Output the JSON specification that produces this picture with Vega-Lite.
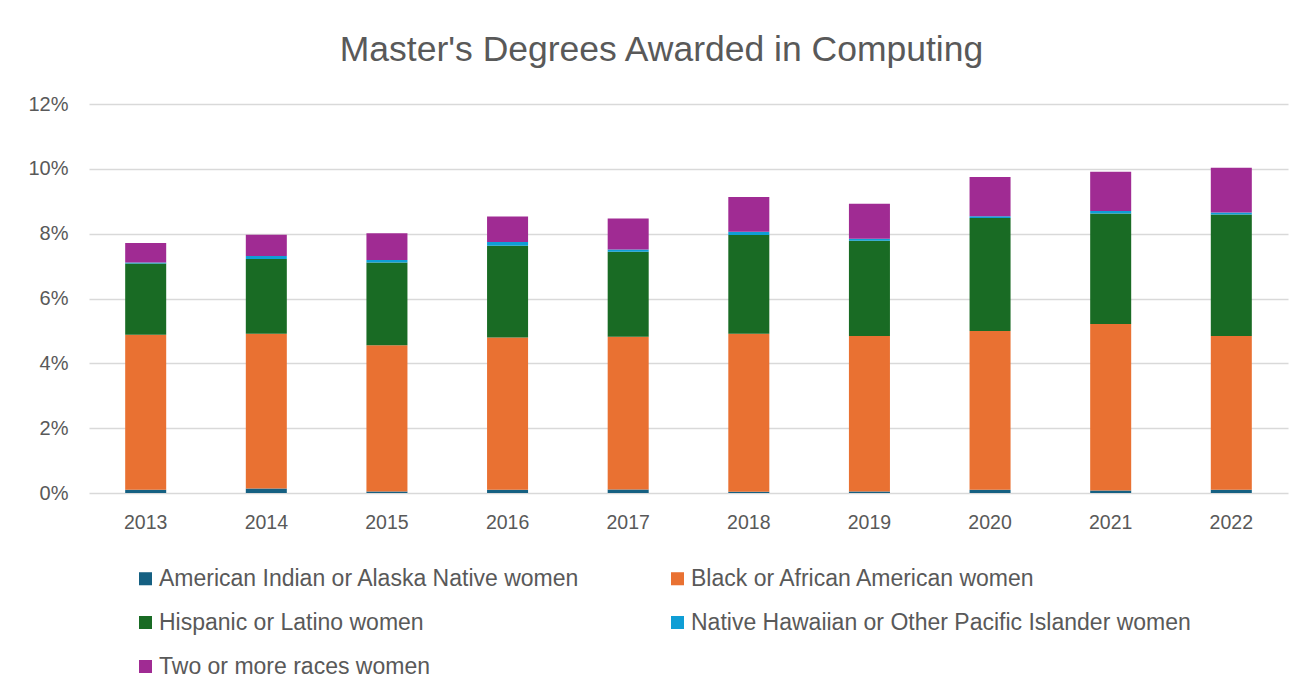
{
  "$schema": "https://vega.github.io/schema/vega-lite/v6.json",
  "width": 1199,
  "height": 389,
  "autosize": {"type": "none"},
  "padding": {"left": 89, "top": 104, "right": 26, "bottom": 205},
  "background": "white",
  "title": {
    "text": "Master's Degrees Awarded in Computing",
    "anchor": "middle",
    "frame": "group",
    "dx": -27,
    "offset": 26,
    "fontSize": 35.5,
    "font": "Liberation Sans",
    "fontWeight": "normal",
    "color": "#595959"
  },
  "data": {
    "values": [
      {"year": "2013", "race": "American Indian or Alaska Native women", "share": 0.0010},
      {"year": "2013", "race": "Black or African American women", "share": 0.0478},
      {"year": "2013", "race": "Hispanic or Latino women", "share": 0.0220},
      {"year": "2013", "race": "Native Hawaiian or Other Pacific Islander women", "share": 0.0003},
      {"year": "2013", "race": "Two or more races women", "share": 0.0060},
      {"year": "2014", "race": "American Indian or Alaska Native women", "share": 0.0014},
      {"year": "2014", "race": "Black or African American women", "share": 0.0477},
      {"year": "2014", "race": "Hispanic or Latino women", "share": 0.0231},
      {"year": "2014", "race": "Native Hawaiian or Other Pacific Islander women", "share": 0.0009},
      {"year": "2014", "race": "Two or more races women", "share": 0.0066},
      {"year": "2015", "race": "American Indian or Alaska Native women", "share": 0.0005},
      {"year": "2015", "race": "Black or African American women", "share": 0.0451},
      {"year": "2015", "race": "Hispanic or Latino women", "share": 0.0255},
      {"year": "2015", "race": "Native Hawaiian or Other Pacific Islander women", "share": 0.0008},
      {"year": "2015", "race": "Two or more races women", "share": 0.0082},
      {"year": "2016", "race": "American Indian or Alaska Native women", "share": 0.0010},
      {"year": "2016", "race": "Black or African American women", "share": 0.0470},
      {"year": "2016", "race": "Hispanic or Latino women", "share": 0.0283},
      {"year": "2016", "race": "Native Hawaiian or Other Pacific Islander women", "share": 0.0011},
      {"year": "2016", "race": "Two or more races women", "share": 0.0079},
      {"year": "2017", "race": "American Indian or Alaska Native women", "share": 0.0011},
      {"year": "2017", "race": "Black or African American women", "share": 0.0471},
      {"year": "2017", "race": "Hispanic or Latino women", "share": 0.0262},
      {"year": "2017", "race": "Native Hawaiian or Other Pacific Islander women", "share": 0.0007},
      {"year": "2017", "race": "Two or more races women", "share": 0.0096},
      {"year": "2018", "race": "American Indian or Alaska Native women", "share": 0.0004},
      {"year": "2018", "race": "Black or African American women", "share": 0.0487},
      {"year": "2018", "race": "Hispanic or Latino women", "share": 0.0305},
      {"year": "2018", "race": "Native Hawaiian or Other Pacific Islander women", "share": 0.0010},
      {"year": "2018", "race": "Two or more races women", "share": 0.0107},
      {"year": "2019", "race": "American Indian or Alaska Native women", "share": 0.0005},
      {"year": "2019", "race": "Black or African American women", "share": 0.0479},
      {"year": "2019", "race": "Hispanic or Latino women", "share": 0.0294},
      {"year": "2019", "race": "Native Hawaiian or Other Pacific Islander women", "share": 0.0006},
      {"year": "2019", "race": "Two or more races women", "share": 0.0108},
      {"year": "2020", "race": "American Indian or Alaska Native women", "share": 0.0010},
      {"year": "2020", "race": "Black or African American women", "share": 0.0490},
      {"year": "2020", "race": "Hispanic or Latino women", "share": 0.0348},
      {"year": "2020", "race": "Native Hawaiian or Other Pacific Islander women", "share": 0.0006},
      {"year": "2020", "race": "Two or more races women", "share": 0.0121},
      {"year": "2021", "race": "American Indian or Alaska Native women", "share": 0.0008},
      {"year": "2021", "race": "Black or African American women", "share": 0.0513},
      {"year": "2021", "race": "Hispanic or Latino women", "share": 0.0341},
      {"year": "2021", "race": "Native Hawaiian or Other Pacific Islander women", "share": 0.0008},
      {"year": "2021", "race": "Two or more races women", "share": 0.0121},
      {"year": "2022", "race": "American Indian or Alaska Native women", "share": 0.0010},
      {"year": "2022", "race": "Black or African American women", "share": 0.0474},
      {"year": "2022", "race": "Hispanic or Latino women", "share": 0.0375},
      {"year": "2022", "race": "Native Hawaiian or Other Pacific Islander women", "share": 0.0006},
      {"year": "2022", "race": "Two or more races women", "share": 0.0138}
    ]
  },
  "mark": {"type": "bar"},
  "encoding": {
    "x": {
      "field": "year",
      "type": "ordinal",
      "scale": {"paddingInner": 0.66, "paddingOuter": 0.3},
      "axis": {
        "title": null,
        "labelAngle": 0,
        "labelFontSize": 19.5,
        "labelFont": "Liberation Sans",
        "labelColor": "#595959",
        "labelPadding": 20,
        "ticks": false,
        "domain": false
      }
    },
    "y": {
      "field": "share",
      "type": "quantitative",
      "stack": "zero",
      "scale": {"domain": [0, 0.12]},
      "axis": {
        "title": null,
        "format": ".0%",
        "values": [0, 0.02, 0.04, 0.06, 0.08, 0.1, 0.12],
        "labelFontSize": 20,
        "labelFont": "Liberation Sans",
        "labelColor": "#595959",
        "labelPadding": 21,
        "ticks": false,
        "domain": false,
        "gridColor": "#D9D9D9",
        "gridWidth": 1.3
      }
    },
    "color": {
      "field": "race",
      "type": "nominal",
      "scale": {
        "domain": [
          "American Indian or Alaska Native women",
          "Black or African American women",
          "Hispanic or Latino women",
          "Native Hawaiian or Other Pacific Islander women",
          "Two or more races women"
        ],
        "range": ["#156082", "#E97132", "#196B24", "#0F9ED5", "#A02B93"]
      },
      "legend": {
        "title": null,
        "orient": "none",
        "legendX": 45,
        "legendY": 463,
        "direction": "horizontal",
        "columns": 2,
        "columnPadding": 86,
        "rowPadding": 20,
        "symbolType": "square",
        "symbolSize": 170,
        "symbolStrokeWidth": 0,
        "labelFontSize": 23,
        "labelFont": "Liberation Sans",
        "labelColor": "#595959",
        "labelOffset": 2,
        "labelLimit": 700
      }
    },
    "order": {"field": "race", "sort": "ascending"}
  },
  "config": {
    "view": {"stroke": null}
  }
}
